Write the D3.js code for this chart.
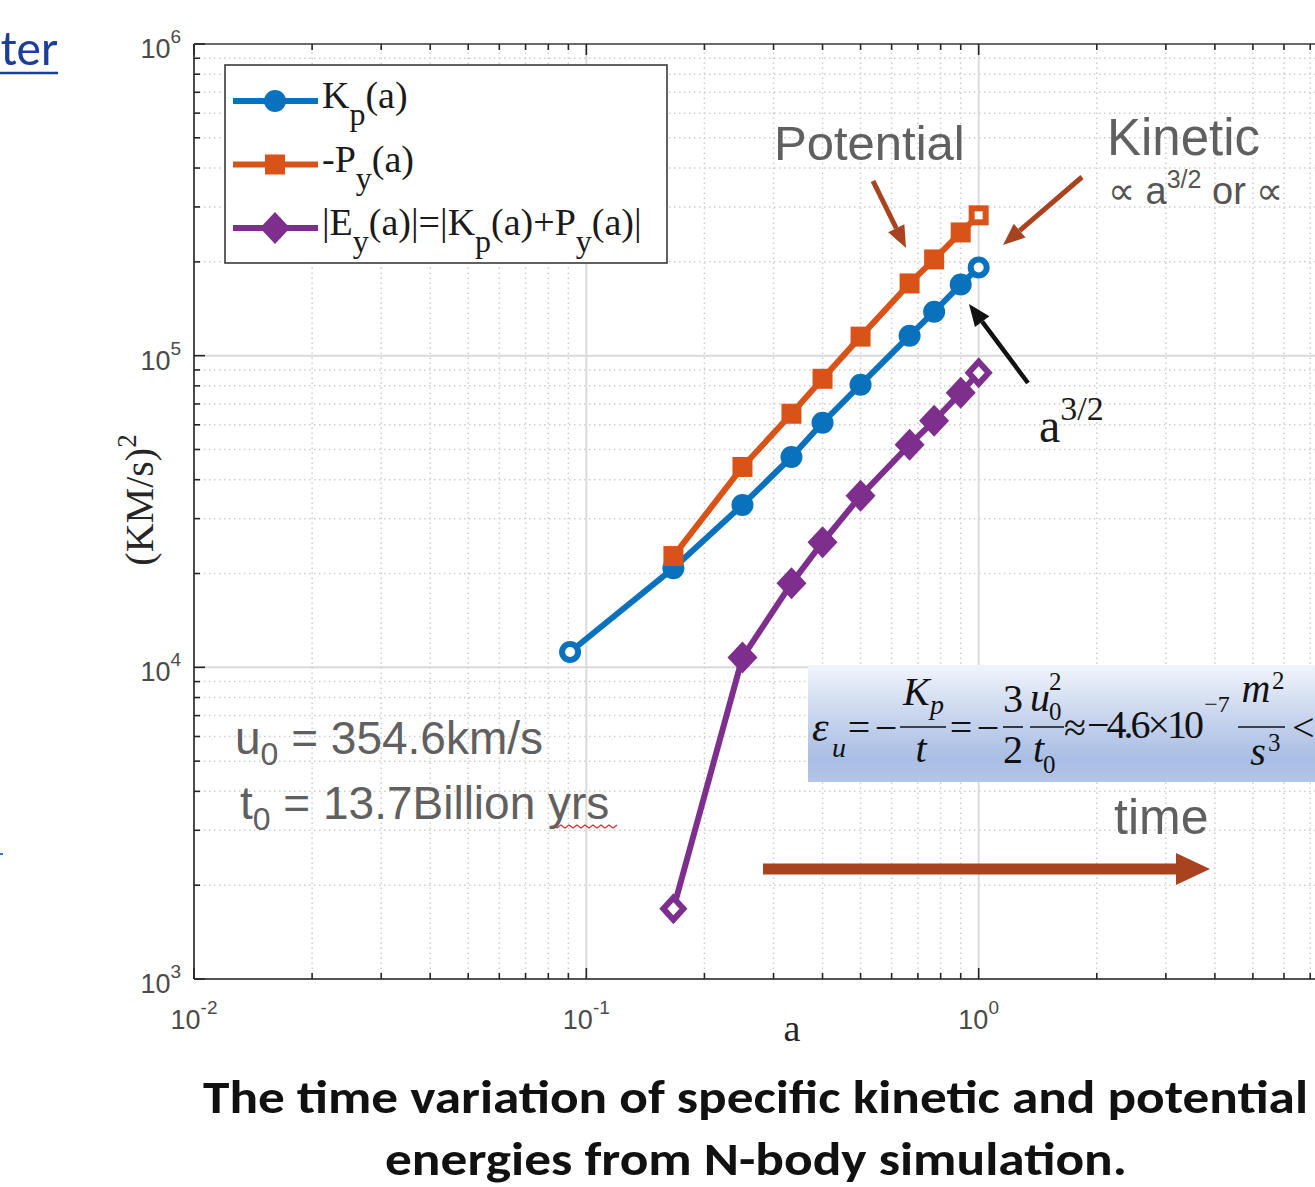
<!DOCTYPE html>
<html>
<head>
<meta charset="utf-8">
<script src="https://cdn.jsdelivr.net/npm/d3@7"></script>
<style>
body { margin: 0; background: #fff; overflow: hidden; }
svg { display: block; }
</style>
</head>
<body>
<div id="chart"></div>
<script>
// values: scale factor a, energies in (km/s)^2
const aKin = [0.0909, 0.1667, 0.25, 0.3333, 0.4, 0.5, 0.6667, 0.77, 0.9, 1.0];
const kinetic = [11200, 20800, 33200, 47300, 60900, 80700, 115900, 138400, 169100, 191800];
const aPot = [0.1667, 0.25, 0.3333, 0.4, 0.5, 0.6667, 0.77, 0.9, 1.0];
const potential = [22750, 43950, 65100, 84300, 115100, 170500, 203600, 248500, 282000];
const total = [1680, 10760, 18600, 25200, 35500, 51800, 61800, 76000, 88100];

const xDecades = [-2, -1, 0];
const yDecades = [3, 4, 5, 6];

const width = 1315, height = 1187;
const svg = d3.select("#chart").append("svg")
    .attr("width", width)
    .attr("height", height);

const x = d3.scaleLog().domain([1e-2, 1e1]).range([194, 1371]);
const y = d3.scaleLog().domain([1e3, 1e6]).range([979, 44]);

const isDecade = v => Math.abs(Math.log10(v) - Math.round(Math.log10(v))) < 1e-9;

// ---- grid
const grid = svg.append("g");
const xt = x.ticks(), yt = y.ticks();

grid.selectAll(".xminor").data(xt.filter(v => !isDecade(v))).enter().append("line")
    .attr("x1", d => x(d)).attr("x2", d => x(d))
    .attr("y1", y.range()[0]).attr("y2", y.range()[1])
    .attr("stroke", "#cdcdcd").attr("stroke-width", 1.5).attr("stroke-dasharray", "1.5,3.5");
grid.selectAll(".yminor").data(yt.filter(v => !isDecade(v))).enter().append("line")
    .attr("y1", d => y(d)).attr("y2", d => y(d))
    .attr("x1", x.range()[0]).attr("x2", x.range()[1])
    .attr("stroke", "#cdcdcd").attr("stroke-width", 1.5).attr("stroke-dasharray", "1.5,3.5");
grid.selectAll(".xmajor").data(xt.filter(isDecade)).enter().append("line")
    .attr("x1", d => x(d)).attr("x2", d => x(d))
    .attr("y1", y.range()[0]).attr("y2", y.range()[1])
    .attr("stroke", "#dadada").attr("stroke-width", 2);
grid.selectAll(".ymajor").data(yt.filter(isDecade)).enter().append("line")
    .attr("y1", d => y(d)).attr("y2", d => y(d))
    .attr("x1", x.range()[0]).attr("x2", x.range()[1])
    .attr("stroke", "#dadada").attr("stroke-width", 2);

// ---- axes box + inward ticks
const ax = svg.append("g").attr("stroke", "#262626").attr("stroke-width", 1.6);
const L = x.range()[0], R = x.range()[1], B = y.range()[0], T = y.range()[1];
ax.append("line").attr("x1", L).attr("x2", L).attr("y1", T).attr("y2", B);
ax.append("line").attr("x1", L).attr("x2", R).attr("y1", B).attr("y2", B);
ax.append("line").attr("x1", L).attr("x2", R).attr("y1", T).attr("y2", T).attr("stroke", "#444");

xt.forEach(v => {
    const len = isDecade(v) ? 11 : 6;
    ax.append("line").attr("x1", x(v)).attr("x2", x(v)).attr("y1", B).attr("y2", B - len);
    ax.append("line").attr("x1", x(v)).attr("x2", x(v)).attr("y1", T).attr("y2", T + len);
});
yt.forEach(v => {
    const len = isDecade(v) ? 11 : 6;
    ax.append("line").attr("y1", y(v)).attr("y2", y(v)).attr("x1", L).attr("x2", L + len);
});

// tick labels 10^n
const tickFont = "Liberation Sans, Arial, sans-serif";
xDecades.forEach(e => {
    const t = svg.append("text").attr("x", x(Math.pow(10, e))).attr("y", 1029)
        .attr("text-anchor", "middle").attr("font-family", tickFont)
        .attr("fill", "#4a4a4a").attr("font-size", 27);
    t.append("tspan").text("10");
    t.append("tspan").attr("dy", -15).attr("font-size", 19).text(e);
});
yDecades.forEach(e => {
    const t = svg.append("text").attr("x", 181).attr("y", y(Math.pow(10, e)) + 14)
        .attr("text-anchor", "end").attr("font-family", tickFont)
        .attr("fill", "#4a4a4a").attr("font-size", 27);
    t.append("tspan").text("10");
    t.append("tspan").attr("dy", -15).attr("font-size", 19).text(e);
});

// axis titles
const serif = "Liberation Serif, Times New Roman, serif";
svg.append("text").attr("x", 792).attr("y", 1041).attr("text-anchor", "middle")
    .attr("font-family", serif).attr("font-size", 38).attr("fill", "#262626").text("a");
const yl = svg.append("text").attr("transform", "translate(153,500) rotate(-90)")
    .attr("text-anchor", "middle").attr("font-family", serif)
    .attr("font-size", 40).attr("fill", "#262626");
yl.append("tspan").text("(KM/s)");
yl.append("tspan").attr("dy", -17).attr("font-size", 27).text("2");

// ---- series
const series = [
    { a: aKin, v: kinetic, color: "#0a72bd", shape: "circle", hollow: [0, aKin.length - 1] },
    { a: aPot, v: potential, color: "#d95319", shape: "square", hollow: [aPot.length - 1] },
    { a: aPot, v: total, color: "#7e2f8e", shape: "diamond", hollow: [0, aPot.length - 1] }
];

const line = d3.line().x(d => x(d[0])).y(d => y(d[1]));

function marker(g, cx, cy, shape, color, hollow) {
    const sw = hollow ? 6 : 0;
    const fill = hollow ? "#fff" : color;
    if (shape === "circle") {
        g.append("circle").attr("cx", cx).attr("cy", cy).attr("r", hollow ? 8 : 11)
            .attr("fill", fill).attr("stroke", color).attr("stroke-width", sw);
    } else if (shape === "square") {
        const s = hollow ? 14 : 20;
        g.append("rect").attr("x", cx - s / 2).attr("y", cy - s / 2).attr("width", s).attr("height", s)
            .attr("fill", fill).attr("stroke", color).attr("stroke-width", sw);
    } else {
        const h = hollow ? 11 : 16, w = hollow ? 10 : 15;
        g.append("path").attr("d", `M${cx},${cy - h}L${cx + w},${cy}L${cx},${cy + h}L${cx - w},${cy}Z`)
            .attr("fill", fill).attr("stroke", color).attr("stroke-width", sw)
            .attr("stroke-linejoin", "miter");
    }
}

const plot = svg.append("g");
series.forEach(s => {
    const pts = s.a.map((a, i) => [a, s.v[i]]);
    plot.append("path").datum(pts).attr("d", line)
        .attr("fill", "none").attr("stroke", s.color).attr("stroke-width", 6)
        .attr("stroke-linejoin", "round");
    pts.forEach((p, i) => marker(plot, x(p[0]), y(p[1]), s.shape, s.color, s.hollow.includes(i)));
});

// ---- legend
const lg = svg.append("g");
lg.append("rect").attr("x", 225).attr("y", 65).attr("width", 442).attr("height", 198)
    .attr("fill", "#fff").attr("stroke", "#3a3a3a").attr("stroke-width", 1.6);
const legendRows = [
    { s: series[0], parts: [["K"], ["p", 1], ["(a)"]] },
    { s: series[1], parts: [["-P"], ["y", 1], ["(a)"]] },
    { s: series[2], parts: [["|E"], ["y", 1], ["(a)|=|K"], ["p", 1], ["(a)+P"], ["y", 1], ["(a)|"]] }
];
legendRows.forEach((row, i) => {
    const cy = 101 + i * 63.5;
    lg.append("line").attr("x1", 233).attr("x2", 318).attr("y1", cy).attr("y2", cy)
        .attr("stroke", row.s.color).attr("stroke-width", 6);
    marker(lg, 275, cy, row.s.shape, row.s.color, false);
    const t = lg.append("text").attr("x", 322).attr("y", cy + 7)
        .attr("font-family", serif).attr("font-size", 38).attr("fill", "#1a1a1a");
    let down = false;
    row.parts.forEach(p => {
        const sub = p[1] === 1;
        const ts = t.append("tspan").text(p[0]);
        if (sub) { ts.attr("dy", 17).attr("font-size", 32); down = true; }
        else if (down) { ts.attr("dy", -17); down = false; }
    });
});

// ---- annotations
const grey = "#606060", brown = "#a8421f";
const sans = "Liberation Sans, Arial, sans-serif";

function arrow(g, x1, y1, x2, y2, color, w, hl, hw) {
    const dx = x2 - x1, dy = y2 - y1, len = Math.hypot(dx, dy);
    const ux = dx / len, uy = dy / len;
    const bx = x2 - ux * hl, by = y2 - uy * hl;
    g.append("line").attr("x1", x1).attr("y1", y1).attr("x2", bx).attr("y2", by)
        .attr("stroke", color).attr("stroke-width", w);
    g.append("path")
        .attr("d", `M${x2},${y2}L${bx - uy * hw / 2},${by + ux * hw / 2}L${bx + uy * hw / 2},${by - ux * hw / 2}Z`)
        .attr("fill", color);
}

const an = svg.append("g");
an.append("text").attr("x", 774).attr("y", 160).attr("font-family", sans)
    .attr("font-size", 49).attr("fill", grey).text("Potential");
an.append("text").attr("x", 1107).attr("y", 155).attr("font-family", sans)
    .attr("font-size", 51).attr("fill", grey).text("Kinetic");
const prop = an.append("text").attr("x", 1108).attr("y", 204).attr("font-family", sans)
    .attr("font-size", 38).attr("fill", "#555");
prop.append("tspan").text("\u221d a");
prop.append("tspan").attr("dy", -16).attr("font-size", 25).text("3/2");
prop.append("tspan").attr("dy", 16).text(" or \u221d");

arrow(an, 873, 181, 906, 248, brown, 5, 22, 18);
arrow(an, 1082, 177, 1003, 245, brown, 5, 22, 18);
arrow(an, 1028, 383, 969, 304, "#111", 4.5, 22, 18);

const a32 = an.append("text").attr("x", 1039).attr("y", 442).attr("font-family", serif)
    .attr("font-size", 48).attr("fill", "#1a1a1a");
a32.append("tspan").text("a");
a32.append("tspan").attr("dy", -22).attr("font-size", 34).text("3/2");

// u0 / t0
const u0 = an.append("text").attr("x", 235).attr("y", 754).attr("font-family", sans)
    .attr("font-size", 46).attr("fill", grey);
u0.append("tspan").text("u");
u0.append("tspan").attr("dy", 11).attr("font-size", 32).text("0");
u0.append("tspan").attr("dy", -11).text(" = 354.6km/s");
const t0 = an.append("text").attr("x", 240).attr("y", 819).attr("font-family", sans)
    .attr("font-size", 46).attr("fill", grey);
t0.append("tspan").text("t");
t0.append("tspan").attr("dy", 11).attr("font-size", 32).text("0");
t0.append("tspan").attr("dy", -11).text(" = 13.7Billion yrs");
// spell-check squiggle under "yrs"
let sq = "M555,825";
for (let i = 0; i < 16; i++) sq += `L${557 + i * 4},${i % 2 ? 825 : 828}`;
an.append("path").attr("d", sq).attr("fill", "none").attr("stroke", "#d03030").attr("stroke-width", 1.2);

// time arrow
an.append("text").attr("x", 1114).attr("y", 834).attr("font-family", sans)
    .attr("font-size", 50).attr("fill", grey).text("time");
arrow(an, 763, 869, 1210, 869, brown, 11, 34, 32);

// formula box
const defs = svg.append("defs");
const gr = defs.append("linearGradient").attr("id", "fbox").attr("x1", 0).attr("x2", 0).attr("y1", 0).attr("y2", 1);
gr.append("stop").attr("offset", "0%").attr("stop-color", "#f1f4fb");
gr.append("stop").attr("offset", "50%").attr("stop-color", "#c3d1ec");
gr.append("stop").attr("offset", "80%").attr("stop-color", "#a9bee4");
gr.append("stop").attr("offset", "100%").attr("stop-color", "#b3c5e8");
an.append("rect").attr("x", 808).attr("y", 665).attr("width", 520).attr("height", 117).attr("fill", "url(#fbox)");

const fm = an.append("g").attr("font-family", serif).attr("fill", "#111");
function ft(x0, y0, s, size, italic, anchor) {
    return fm.append("text").attr("x", x0).attr("y", y0).attr("font-size", size)
        .attr("font-style", italic ? "italic" : null)
        .attr("text-anchor", anchor || "start").text(s);
}
function bar(x1, x2) {
    fm.append("line").attr("x1", x1).attr("x2", x2).attr("y1", 727).attr("y2", 727)
        .attr("stroke", "#111").attr("stroke-width", 1.6);
}
ft(812, 741, "\u03b5", 42, true);
ft(832, 757, "u", 28, true);
ft(859, 741, "=", 40, false, "middle");
ft(886, 741, "\u2212", 40, false, "middle");
ft(903, 705, "K", 40, true);
ft(930, 714, "p", 28, true);
bar(900, 946);
ft(921, 762, "t", 40, true, "middle");
ft(961, 741, "=", 40, false, "middle");
ft(988, 741, "\u2212", 40, false, "middle");
ft(1013, 712, "3", 40, false, "middle");
bar(1003, 1023);
ft(1013, 763, "2", 40, false, "middle");
ft(1030, 711, "u", 40, true);
ft(1049, 690, "2", 25, false);
ft(1049, 720, "0", 25, false);
bar(1030, 1064);
ft(1033, 762, "t", 40, true);
ft(1043, 773, "0", 25, false);
ft(1075, 741, "\u2248", 40, false, "middle");
const num = ft(1087, 738, "", 40, false);
num.append("tspan").attr("letter-spacing", -3).text("\u22124.6\u00d710");
num.append("tspan").attr("dy", -26).attr("font-size", 24).attr("dx", 3).text("\u22127");
ft(1256, 702, "m", 40, true, "middle");
ft(1272, 689, "2", 25, false);
bar(1238, 1285);
ft(1258, 765, "s", 40, true, "middle");
ft(1268, 751, "3", 25, false);
ft(1292, 741, "<", 40, false);

// ---- slide leftovers: link text at top-left, caption
svg.append("text").attr("x", 58).attr("y", 65).attr("text-anchor", "end")
    .attr("font-family", "Carlito, Lato, Open Sans, sans-serif").attr("font-size", 49)
    .attr("fill", "#1b3e98").text("ter");
svg.append("line").attr("x1", 0).attr("x2", 58).attr("y1", 73).attr("y2", 73)
    .attr("stroke", "#1b3e98").attr("stroke-width", 2.5);
svg.append("line").attr("x1", 0).attr("x2", 3).attr("y1", 854).attr("y2", 854)
    .attr("stroke", "#3a6fd0").attr("stroke-width", 2);

const cap = svg.append("g").attr("font-family", "Carlito, Lato, sans-serif")
    .attr("font-weight", "bold").attr("font-size", 46).attr("fill", "#111");
cap.append("text").attr("x", 203).attr("y", 1113).attr("textLength", 1105)
    .attr("lengthAdjust", "spacingAndGlyphs")
    .text("The time variation of specific kinetic and potential");
cap.append("text").attr("x", 385).attr("y", 1175).attr("textLength", 742)
    .attr("lengthAdjust", "spacingAndGlyphs")
    .text("energies from N-body simulation.");
</script>
</body>
</html>
